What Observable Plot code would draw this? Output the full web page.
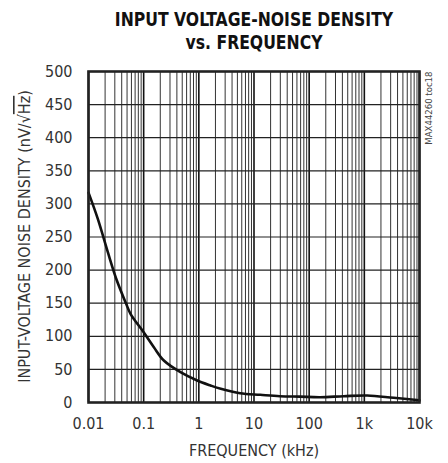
<!DOCTYPE html>
<html>
<head>
<meta charset="utf-8">
<script src="https://cdn.jsdelivr.net/npm/d3@7"></script>
<script src="https://cdn.jsdelivr.net/npm/@observablehq/plot@0.6"></script>
<style>
  html, body { margin: 0; padding: 0; background: #fff; }
  #chart svg { display: block; }
</style>
</head>
<body>
<div id="chart"></div>
<script>
// Frequency (kHz) and noise density (nV/√Hz)
const freq = [0.01, 0.0148, 0.0224, 0.0318, 0.0482, 0.0577, 0.1, 0.153, 0.232, 0.465, 0.934, 1.63, 2.5, 5.6, 13, 29.5, 69, 157, 420, 1130, 3400, 10000];
const noise = [317, 277, 227, 187, 149, 134, 106, 83.5, 63.4, 45.8, 33.2, 25.7, 20.7, 14, 11.6, 9.5, 8.8, 8, 9.5, 10.6, 7.1, 3.5];

const xTicks = [0.01, 0.1, 1, 10, 100, 1000, 10000];
const xTickLabels = ["0.01", "0.1", "1", "10", "100", "1k", "10k"];
const yTicks = [0, 50, 100, 150, 200, 250, 300, 350, 400, 450, 500];
const titleLines = ["INPUT VOLTAGE-NOISE DENSITY", "vs. FREQUENCY"];
const xLabel = "FREQUENCY (kHz)";
const tocLabel = "MAX44260 toc18";

const data = freq.map((f, i) => ({f, v: noise[i]}));
const minor = [];
for (let d = 0.01; d < 10000; d *= 10) {
  for (let k = 2; k <= 9; k++) minor.push(+(d * k).toPrecision(3));
}

const font = "'DejaVu Sans Condensed', 'Liberation Sans', sans-serif";

const chart = Plot.plot({
  width: 448,
  height: 463,
  marginTop: 71,
  marginBottom: 61,
  marginLeft: 88,
  marginRight: 29,
  style: {fontFamily: font, fontSize: "16px", color: "#333", background: "#fff"},
  x: {type: "log", domain: [0.01, 10000]},
  y: {domain: [0, 500]},
  marks: [
    Plot.ruleX(minor, {stroke: "#333", strokeWidth: 1}),
    Plot.ruleX(xTicks, {stroke: "#111", strokeWidth: 1.6}),
    Plot.ruleY(yTicks, {stroke: "#222", strokeWidth: 1.2}),
    Plot.line(data, {x: "f", y: "v", curve: "catmull-rom", stroke: "#111", strokeWidth: 2.6}),
    Plot.frame({stroke: "#222", strokeWidth: 2.6}),
    Plot.axisX(xTicks, {tickSize: 0, tickPadding: 15, label: null,
      tickFormat: d => xTickLabels[xTicks.indexOf(d)], fontSize: 16}),
    Plot.axisY(yTicks, {tickSize: 0, tickPadding: 16, label: null, fontSize: 16}),
    Plot.text([xLabel], {frameAnchor: "bottom", lineAnchor: "middle", dy: 48, fontSize: 16, fill: "#333"}),
    Plot.text([titleLines[0]], {frameAnchor: "top", lineAnchor: "middle", dy: -51.5, fontSize: 20, fontWeight: "bold", fill: "#111", className: "ttl"}),
    Plot.text([titleLines[1]], {frameAnchor: "top", lineAnchor: "middle", dy: -28.5, fontSize: 20, fontWeight: "bold", fill: "#111", className: "ttl"}),
    Plot.text([tocLabel], {frameAnchor: "top-right", dx: 9, rotate: -90, textAnchor: "end", lineAnchor: "middle", fontSize: 9.5, fill: "#444"})
  ]
});

// Condense the bold title horizontally, as in the original typeface
d3.select(chart).selectAll("g.ttl text").each(function () {
  const cx = +this.getAttribute("x") || 0;
  const cy = +this.getAttribute("y") || 0;
  const t = this.getAttribute("transform") || "";
  this.setAttribute("transform", t + ` translate(${cx},${cy}) scale(0.87,1) translate(${-cx},${-cy})`);
});

// Y-axis label with an overlined "Hz" under the radical sign
const svg = d3.select(chart);
const yl = svg.append("text")
  .attr("transform", "translate(25," + ((71 + 402) / 2) + ") rotate(-90)")
  .attr("text-anchor", "middle")
  .attr("dominant-baseline", "middle")
  .attr("font-size", 16)
  .attr("fill", "#333")
  .attr("font-family", font);
yl.append("tspan").text("INPUT-VOLTAGE NOISE DENSITY (nV/√");
yl.append("tspan").attr("text-decoration", "overline").style("text-decoration", "overline").text("Hz");
yl.append("tspan").text(")");

document.getElementById("chart").appendChild(chart);
</script>
</body>
</html>
